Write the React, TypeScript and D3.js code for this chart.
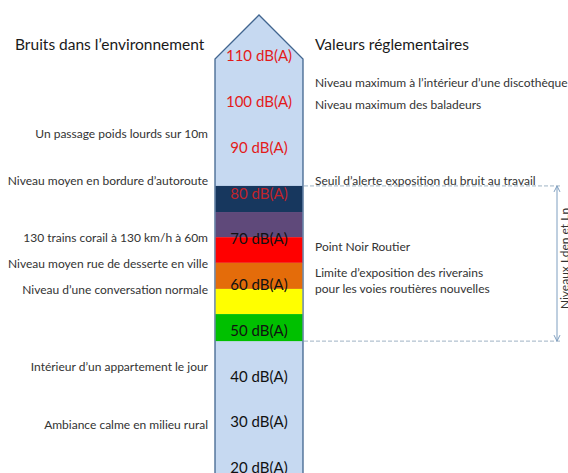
import * as d3 from "d3";
import React, { useEffect, useRef } from "react";

// dB labels on the column
const levels = [110, 100, 90, 80, 70, 60, 50, 40, 30, 20];
const levelColors = ["#e31b1b", "#e31b1b", "#e31b1b", "#c0242a", "#111", "#111", "#111", "#111", "#111", "#111"];

// coloured bands (dB top / bottom edges)
const bandTops = [81.4, 75.7, 70.2, 64.6, 58.9, 53.4];
const bandBottoms = [75.7, 70.2, 64.6, 58.9, 53.4, 47.5];
const bandColors = ["#17375e", "#5f497a", "#ff0000", "#e46c0a", "#ffff00", "#00c000"];

// left side: environment noises
const envTexts = [
  "Un passage poids lourds sur 10m",
  "Niveau moyen en bordure d\u2019autoroute",
  "130 trains corail \u00e0 130 km/h \u00e0 60m",
  "Niveau moyen rue de desserte en ville",
  "Niveau d\u2019une conversation normale",
  "Int\u00e9rieur d\u2019un appartement  le jour",
  "Ambiance calme en milieu rural",
];
const envLevels = [92.8, 82.5, 70.1, 64.4, 58.7, 41.8, 29.2];

// right side: regulatory values
const regTexts = [
  "Niveau maximum \u00e0 l\u2019int\u00e9rieur d\u2019une discoth\u00e8que",
  "Niveau maximum des baladeurs",
  "Seuil d\u2019alerte exposition du bruit au travail",
  "Point Noir Routier",
  "Limite d\u2019exposition des riverains",
  "pour les voies routi\u00e8res nouvelles",
];
const regLevels = [103.9, 99.1, 82.5, 68.1, 62.4, 58.9];

// bracket for Lden / Ln
const bracketRange = [81.4, 47.5];
const bracketLabel = "Niveaux Lden et Ln";

const font = "Lato, 'Open Sans', sans-serif";

const App: React.FC = () => {
  const ref = useRef<SVGSVGElement>(null);

  useEffect(() => {
    const width = 568;
    const height = 473;
    const svg = d3.select(ref.current);
    svg.selectAll("*").remove();
    svg.attr("width", width).attr("height", height);

    const y = d3.scaleLinear().domain([110, 20]).range([55, 467]);
    const colLeft = 215;
    const colRight = 303;
    const colMid = (colLeft + colRight) / 2;

    svg.append("rect").attr("width", width).attr("height", height).attr("fill", "#fff");

    // column with arrow head
    const shoulder = 59;
    const pts: [number, number][] = [
      [colLeft, height + 5],
      [colLeft, shoulder],
      [colMid, 15],
      [colRight, shoulder],
      [colRight, height + 5],
    ];
    svg
      .append("path")
      .attr("d", d3.line()(pts) + "Z")
      .attr("fill", "#c6d9f1")
      .attr("stroke", "#41658f")
      .attr("stroke-width", 1.3);

    svg
      .selectAll("rect.band")
      .data(bandColors)
      .enter()
      .append("rect")
      .attr("class", "band")
      .attr("x", colLeft + 0.7)
      .attr("width", colRight - colLeft - 1.4)
      .attr("y", (_, i) => y(bandTops[i]))
      .attr("height", (_, i) => y(bandBottoms[i]) - y(bandTops[i]))
      .attr("fill", (d) => d);

    svg
      .selectAll("text.level")
      .data(levels)
      .enter()
      .append("text")
      .attr("x", colMid)
      .attr("y", (d) => y(d) + 1)
      .attr("dy", "0.35em")
      .attr("text-anchor", "middle")
      .attr("font-family", font)
      .attr("font-size", 15)
      .attr("fill", (_, i) => levelColors[i])
      .text((d) => `${d} dB(A)`);

    // titles
    svg
      .append("text")
      .attr("x", 15)
      .attr("y", 50)
      .attr("font-family", font)
      .attr("font-size", 15.5)
      .attr("fill", "#1a1a1a")
      .text("Bruits dans l\u2019environnement");
    svg
      .append("text")
      .attr("x", 315)
      .attr("y", 50)
      .attr("font-family", font)
      .attr("font-size", 15.5)
      .attr("fill", "#1a1a1a")
      .text("Valeurs r\u00e9glementaires");

    svg
      .selectAll("text.env")
      .data(envTexts)
      .enter()
      .append("text")
      .attr("x", 208)
      .attr("y", (_, i) => y(envLevels[i]))
      .attr("dy", "0.35em")
      .attr("text-anchor", "end")
      .attr("font-family", font)
      .attr("font-size", 12)
      .attr("fill", "#333")
      .text((d) => d);

    svg
      .selectAll("text.reg")
      .data(regTexts)
      .enter()
      .append("text")
      .attr("x", 315)
      .attr("y", (_, i) => y(regLevels[i]))
      .attr("dy", "0.35em")
      .attr("font-family", font)
      .attr("font-size", 12)
      .attr("fill", "#333")
      .text((d) => d);

    // dashed lines and bracket
    const bx = 557;
    bracketRange.forEach((v) => {
      svg
        .append("line")
        .attr("x1", colRight + 1)
        .attr("x2", bx + 3)
        .attr("y1", y(v))
        .attr("y2", y(v))
        .attr("stroke", "#9fb3c4")
        .attr("stroke-width", 1)
        .attr("stroke-dasharray", "4,2");
    });
    const y0 = y(bracketRange[0]);
    const y1 = y(bracketRange[1]);
    svg
      .append("line")
      .attr("x1", bx)
      .attr("x2", bx)
      .attr("y1", y0)
      .attr("y2", y1)
      .attr("stroke", "#7f9fc0")
      .attr("stroke-width", 1);
    svg
      .append("path")
      .attr("d", `M${bx - 3},${y0 + 6}L${bx},${y0}L${bx + 3},${y0 + 6}M${bx - 3},${y1 - 6}L${bx},${y1}L${bx + 3},${y1 - 6}`)
      .attr("fill", "none")
      .attr("stroke", "#7f9fc0")
      .attr("stroke-width", 1);
    svg
      .append("text")
      .attr("transform", `translate(569,${(y0 + y1) / 2 - 5}) rotate(-90)`)
      .attr("text-anchor", "middle")
      .attr("font-family", font)
      .attr("font-size", 12)
      .attr("fill", "#333")
      .text(bracketLabel);
  }, []);

  return (
    <svg
      ref={ref}
      style={{ position: "absolute", left: 0, top: 0, display: "block" }}
    />
  );
};

export default App;
